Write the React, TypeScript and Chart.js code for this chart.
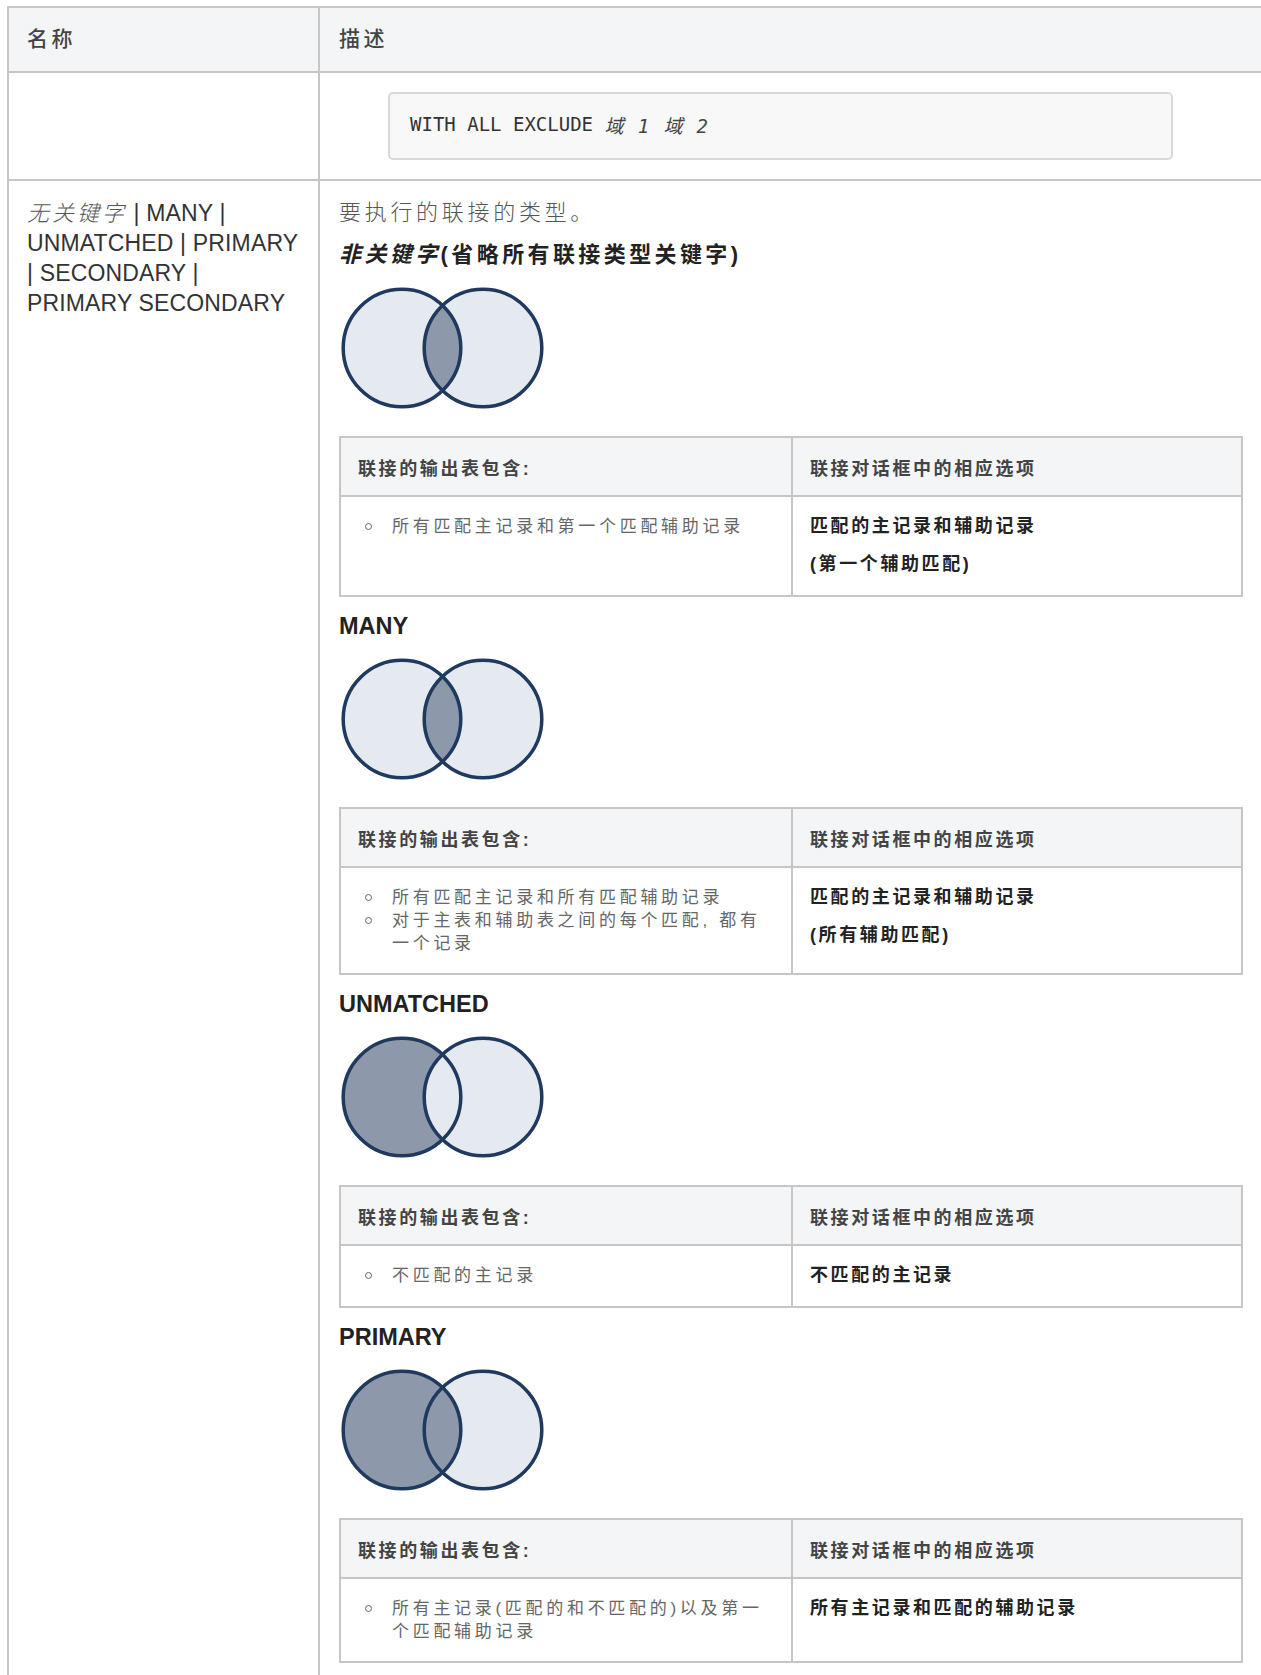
import React, { useEffect, useRef } from "react";
import { Chart, registerables } from "chart.js";

Chart.register(...registerables);

// ---------- data ----------
const COLUMN_HEADERS = ["名称", "描述"];
const CODE_KEYWORDS = "WITH ALL EXCLUDE ";
const CODE_FIELDS = "域 1 域 2";
const NAME_LINES = ["| MANY |", "UNMATCHED | PRIMARY", "| SECONDARY |", "PRIMARY SECONDARY"];
const NAME_ITALIC = "无关键字";
const INTRO_TEXT = "要执行的联接的类型。";
const FIRST_TITLE_ITALIC = "非关键字";
const FIRST_TITLE_REST = "(省略所有联接类型关键字)";
const SECTION_TITLES = ["", "MANY", "UNMATCHED", "PRIMARY"];
// which region of the Venn diagram is shaded
const VENN_SHADING = ["intersection", "intersection", "leftOnly", "left"];
// circle centres (x) and common y, radius in px
const VENN_CENTER_X = [62, 143];
const VENN_CENTER_Y = 62;
const VENN_RADIUS = 58.8;
const TABLE_HEADERS = ["联接的输出表包含:", "联接对话框中的相应选项"];
const OUTPUT_ITEMS = [
  [["所有匹配主记录和第一个匹配辅助记录"]],
  [["所有匹配主记录和所有匹配辅助记录"], ["对于主表和辅助表之间的每个匹配, 都有", "一个记录"]],
  [["不匹配的主记录"]],
  [["所有主记录(匹配的和不匹配的)以及第一", "个匹配辅助记录"]],
];
const DIALOG_OPTIONS = [
  ["匹配的主记录和辅助记录", "(第一个辅助匹配)"],
  ["匹配的主记录和辅助记录", "(所有辅助匹配)"],
  ["不匹配的主记录"],
  ["所有主记录和匹配的辅助记录"],
];

// ---------- styles ----------
const BORDER = "#c6c6c6";
const HEAD_BG = "#f4f5f7";
const STROKE = "#1f3a5e";
const LIGHT = "#e5e9f0";
const DARK = "#8d99aa";
const FONT = '"Liberation Sans", Arial, "Noto Sans CJK SC", sans-serif';
const MONO = '"DejaVu Sans Mono", "Noto Sans CJK SC", monospace';

const regionPlugin = {
  id: "vennRegions",
  beforeDatasetsDraw(chart: any) {
    const mode = chart.options.plugins.vennRegions.mode;
    const meta = chart.getDatasetMeta(0);
    const a = meta.data[0];
    const b = meta.data[1];
    const ra = (a.options && a.options.radius) || VENN_RADIUS;
    const rb = (b.options && b.options.radius) || VENN_RADIUS;
    const ctx = chart.ctx;
    const circle = (p: any, r: number) => {
      ctx.beginPath();
      ctx.arc(p.x, p.y, r, 0, Math.PI * 2);
    };
    ctx.save();
    ctx.fillStyle = LIGHT;
    circle(a, ra);
    ctx.fill();
    circle(b, rb);
    ctx.fill();
    if (mode === "intersection") {
      ctx.save();
      circle(a, ra);
      ctx.clip();
      ctx.fillStyle = DARK;
      circle(b, rb);
      ctx.fill();
      ctx.restore();
    } else if (mode === "leftOnly") {
      ctx.fillStyle = DARK;
      circle(a, ra);
      ctx.fill();
      ctx.save();
      circle(a, ra);
      ctx.clip();
      ctx.fillStyle = LIGHT;
      circle(b, rb);
      ctx.fill();
      ctx.restore();
    } else if (mode === "left") {
      ctx.fillStyle = DARK;
      circle(a, ra);
      ctx.fill();
    }
    ctx.restore();
  },
};

function Venn({ shading }: { shading: string }) {
  const ref = useRef<HTMLCanvasElement | null>(null);
  useEffect(() => {
    if (!ref.current) return;
    const chart = new Chart(ref.current, {
      type: "bubble",
      data: {
        datasets: [
          {
            data: VENN_CENTER_X.map((x) => ({ x, y: VENN_CENTER_Y, r: VENN_RADIUS })),
            backgroundColor: "rgba(0,0,0,0)",
            borderColor: STROKE,
            borderWidth: 3.5,
            clip: false as any,
          },
        ],
      },
      options: {
        animation: false,
        responsive: false,
        maintainAspectRatio: false,
        devicePixelRatio: 1,
        events: [],
        layout: { padding: 0, autoPadding: false } as any,
        plugins: {
          legend: { display: false },
          tooltip: { enabled: false },
          vennRegions: { mode: shading },
        } as any,
        scales: {
          x: { type: "linear", min: 0, max: 206, display: false },
          y: { type: "linear", min: 0, max: 124, display: false, reverse: true },
        },
      },
      plugins: [regionPlugin],
    });
    return () => chart.destroy();
  }, [shading]);
  return (
    <canvas
      ref={ref}
      width={206}
      height={124}
      style={{ display: "block", width: 206, height: 124, marginLeft: 1, marginTop: 16 }}
    />
  );
}

function InnerTable({ index }: { index: number }) {
  const items = OUTPUT_ITEMS[index];
  const opts = DIALOG_OPTIONS[index];
  const headText: React.CSSProperties = {
    fontWeight: "bold",
    fontSize: 18,
    letterSpacing: 2.6,
    color: "#444",
  };
  return (
    <div
      style={{
        marginTop: 26,
        width: 904,
        boxSizing: "border-box",
        border: `2px solid ${BORDER}`,
      }}
    >
      <div style={{ display: "flex", background: HEAD_BG, borderBottom: `2px solid ${BORDER}`, height: 59, boxSizing: "border-box" }}>
        <div
          style={{
            width: 452,
            boxSizing: "border-box",
            borderRight: `2px solid ${BORDER}`,
            paddingLeft: 17,
            display: "flex",
            alignItems: "center",
            ...headText,
          }}
        >
          {TABLE_HEADERS[0]}
        </div>
        <div style={{ flex: 1, paddingLeft: 17, display: "flex", alignItems: "center", ...headText }}>
          {TABLE_HEADERS[1]}
        </div>
      </div>
      <div style={{ display: "flex" }}>
        <div
          style={{
            width: 452,
            boxSizing: "border-box",
            borderRight: `2px solid ${BORDER}`,
            padding: "18px 0 18px 17px",
            fontSize: 17,
            fontWeight: 400,
            letterSpacing: 3.7,
            lineHeight: "23px",
            color: "#666",
          }}
        >
          {items.map((lines, i) => (
            <div key={i} style={{ display: "flex" }}>
              <span style={{ width: 34, flex: "none", height: 23, position: "relative" }}>
                <span
                  style={{
                    position: "absolute",
                    left: 7,
                    top: 8,
                    width: 7,
                    height: 7,
                    boxSizing: "border-box",
                    border: "1.3px solid #666",
                    borderRadius: "50%",
                  }}
                />
              </span>
              <span>
                {lines.map((l, j) => (
                  <div key={j} style={{ whiteSpace: "nowrap" }}>
                    {l}
                  </div>
                ))}
              </span>
            </div>
          ))}
        </div>
        <div
          style={{
            flex: 1,
            padding: "18px 0 20px 17px",
            fontSize: 18,
            fontWeight: "bold",
            letterSpacing: 2.6,
            lineHeight: "22px",
            color: "#222",
          }}
        >
          {opts.map((o, i) => (
            <div key={i} style={{ marginTop: i === 0 ? 0 : 16, whiteSpace: "nowrap" }}>
              {o}
            </div>
          ))}
        </div>
      </div>
    </div>
  );
}

function Section({ index }: { index: number }) {
  return (
    <div>
      {index === 0 ? (
        <div
          style={{
            marginTop: 12,
            height: 30,
            lineHeight: "30px",
            fontSize: 22,
            fontWeight: "bold",
            letterSpacing: 3.4,
            color: "#222",
            whiteSpace: "nowrap",
          }}
        >
          <i>{FIRST_TITLE_ITALIC}</i>
          {FIRST_TITLE_REST}
        </div>
      ) : (
        <div
          style={{
            marginTop: 14,
            height: 30,
            lineHeight: "30px",
            fontSize: 23.5,
            fontWeight: "bold",
            color: "#222",
          }}
        >
          {SECTION_TITLES[index]}
        </div>
      )}
      <Venn shading={VENN_SHADING[index]} />
      <InnerTable index={index} />
    </div>
  );
}

export default function App() {
  useEffect(() => {
    document.documentElement.style.overflow = "hidden";
  }, []);
  const cellLeft: React.CSSProperties = {
    width: 311,
    flex: "none",
    boxSizing: "border-box",
    borderRight: `2px solid ${BORDER}`,
    paddingLeft: 18,
  };
  const headCell: React.CSSProperties = {
    display: "flex",
    alignItems: "center",
    paddingBottom: 5,
    fontSize: 21,
    fontWeight: 500,
    letterSpacing: 3.5,
    color: "#444",
  };
  return (
    <div
      style={{
        position: "fixed",
        top: 6,
        left: 7,
        width: 1254,
        height: 1669,
        overflow: "hidden",
        boxSizing: "border-box",
        borderTop: `2px solid ${BORDER}`,
        borderLeft: `2px solid ${BORDER}`,
        fontFamily: FONT,
        color: "#333",
        background: "#fff",
      }}
    >
      {/* header row */}
      <div style={{ display: "flex", height: 65, boxSizing: "border-box", background: HEAD_BG, borderBottom: `2px solid ${BORDER}` }}>
        <div style={{ ...cellLeft, ...headCell }}>{COLUMN_HEADERS[0]}</div>
        <div style={{ flex: 1, paddingLeft: 19, ...headCell }}>{COLUMN_HEADERS[1]}</div>
      </div>
      {/* code row */}
      <div style={{ display: "flex", height: 108, boxSizing: "border-box", borderBottom: `2px solid ${BORDER}` }}>
        <div style={cellLeft} />
        <div style={{ flex: 1, paddingLeft: 19 }}>
          <div
            style={{
              marginTop: 19,
              marginLeft: 49,
              width: 785,
              height: 68,
              boxSizing: "border-box",
              border: "2px solid #d9d9d9",
              borderRadius: 5,
              background: "#f8f8f8",
              paddingLeft: 20,
              paddingBottom: 4,
              display: "flex",
              alignItems: "center",
              fontFamily: MONO,
              fontSize: 19,
              color: "#333",
              whiteSpace: "pre",
            }}
          >
            {CODE_KEYWORDS}
            <i style={{ color: "#444", letterSpacing: 1.4 }}>{CODE_FIELDS}</i>
          </div>
        </div>
      </div>
      {/* main row */}
      <div style={{ display: "flex", height: 1600 }}>
        <div style={{ ...cellLeft, paddingTop: 17, fontSize: 23, letterSpacing: 0.15, lineHeight: "30px", color: "#333" }}>
          {NAME_LINES.map((l, i) => (
            <div key={i} style={{ whiteSpace: "pre", height: 30 }}>
              {i === 0 ? (
                <>
                  <i style={{ fontSize: 22, fontWeight: 300, letterSpacing: 3, color: "#555" }}>{NAME_ITALIC}</i>{" "}
                </>
              ) : null}
              {l}
            </div>
          ))}
        </div>
        <div style={{ flex: "none", width: 960, paddingLeft: 19, paddingTop: 17 }}>
          <div
            style={{
              height: 30,
              lineHeight: "30px",
              fontSize: 22,
              fontWeight: 300,
              letterSpacing: 3.7,
              color: "#555",
              whiteSpace: "nowrap",
            }}
          >
            {INTRO_TEXT}
          </div>
          {SECTION_TITLES.map((_, i) => (
            <Section key={i} index={i} />
          ))}
        </div>
      </div>
    </div>
  );
}
